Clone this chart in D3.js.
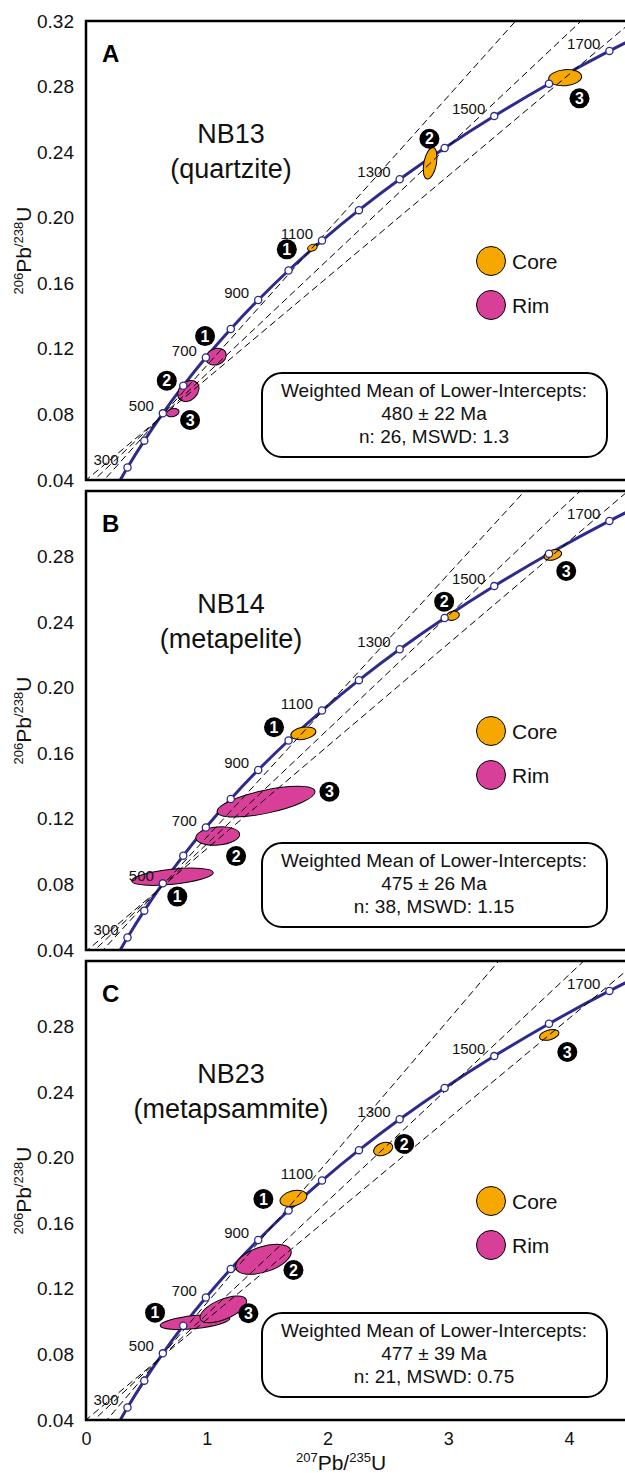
<!DOCTYPE html>
<html><head><meta charset="utf-8">
<script src="https://cdn.jsdelivr.net/npm/d3@7"></script>
<style>html,body{margin:0;padding:0;background:#fff;overflow:hidden}svg{display:block}</style>
</head><body><svg id="chart" width="625" height="1473"></svg>
<script>
// ---------------- DATA ----------------
// Concordia reference points (age in Ma, 207Pb/235U, 206Pb/238U)
const concordiaAges = [200,300,400,500,600,700,800,900,1000,1100,1200,1300,1400,1500,1600,1700,1800];
const concordiaX = [0.21771,0.34374,0.48281,0.63628,0.80563,0.99251,1.19873,1.42630,1.67741,1.95452,2.26030,2.59774,2.97009,3.38099,3.83441,4.33477,4.88690];
const concordiaY = [0.03151,0.04764,0.06401,0.08065,0.09754,0.11470,0.13213,0.14983,0.16780,0.18606,0.20460,0.22343,0.24256,0.26199,0.28172,0.30175,0.32211];
const ageLabels = [300,500,700,900,1100,1300,1500,1700];

const yTicksTop = [0.04,0.08,0.12,0.16,0.20,0.24,0.28,0.32];
const yTicksOther = [0.04,0.08,0.12,0.16,0.20,0.24,0.28];
const xTicks = [0,1,2,3,4];

const panelLetters = ["A","B","C"];
const sampleNames = ["NB13","NB14","NB23"];
const lithologies = ["(quartzite)","(metapelite)","(metapsammite)"];
const statsTitle = "Weighted Mean of Lower-Intercepts:";
const meanAges = ["480 \u00b1 22 Ma","475 \u00b1 26 Ma","477 \u00b1 39 Ma"];
const statsLines = ["n: 26, MSWD: 1.3","n: 38, MSWD: 1.15","n: 21, MSWD: 0.75"];
const legendTypes = ["Core","Rim"];

// lower intercept (207/235, 206/238) for each sample
const lowerIntercepts = [[0.6044,0.0773],[0.5965,0.0765],[0.5996,0.0768]];
// upper points the discordia lines pass through
const discordiaA = [[1.875,0.1817],[2.850,0.2332],[3.968,0.2854]];
const discordiaB = [[1.790,0.1722],[3.000,0.2439],[3.866,0.2810]];
const discordiaC = [[1.740,0.1752],[2.461,0.2053],[3.836,0.2749]];

// error ellipses: centre (x,y), semi-axes in data units (sx along 207/235, sy along 206/238), tilt, badge position
const ellipsesA = [
  {type:"Core",n:1,x:1.875,y:0.1817,sx:0.041,sy:0.0020,rot:-20,bx:1.663,by:0.1807},
  {type:"Core",n:2,x:2.850,y:0.2332,sx:0.052,sy:0.0098,rot:11,bx:2.844,by:0.2482},
  {type:"Core",n:3,x:3.968,y:0.2854,sx:0.137,sy:0.0049,rot:-5,bx:4.087,by:0.2728},
  {type:"Rim",n:1,x:1.077,y:0.1152,sx:0.087,sy:0.0049,rot:-20,bx:0.986,by:0.1278},
  {type:"Rim",n:2,x:0.848,y:0.0943,sx:0.099,sy:0.0055,rot:-45,bx:0.669,by:0.1006},
  {type:"Rim",n:3,x:0.718,y:0.0811,sx:0.054,sy:0.0024,rot:-15,bx:0.862,by:0.0766}
];
const ellipsesB = [
  {type:"Core",n:1,x:1.800,y:0.1722,sx:0.105,sy:0.0037,rot:-10,bx:1.557,by:0.1759},
  {type:"Core",n:2,x:3.037,y:0.2439,sx:0.056,sy:0.0027,rot:-15,bx:2.966,by:0.2525},
  {type:"Core",n:3,x:3.866,y:0.2810,sx:0.075,sy:0.0030,rot:-15,bx:3.977,by:0.2712},
  {type:"Rim",n:1,x:0.716,y:0.0847,sx:0.340,sy:0.0046,rot:-6,bx:0.756,by:0.0726},
  {type:"Rim",n:2,x:1.091,y:0.1095,sx:0.182,sy:0.0055,rot:-5,bx:1.243,by:0.0973},
  {type:"Rim",n:3,x:1.491,y:0.1305,sx:0.414,sy:0.0070,rot:-12,bx:2.016,by:0.1366}
];
const ellipsesC = [
  {type:"Core",n:1,x:1.718,y:0.1752,sx:0.114,sy:0.0046,rot:-15,bx:1.469,by:0.1748},
  {type:"Core",n:2,x:2.461,y:0.2053,sx:0.083,sy:0.0037,rot:-20,bx:2.635,by:0.2084},
  {type:"Core",n:3,x:3.836,y:0.2749,sx:0.083,sy:0.0030,rot:-15,bx:3.986,by:0.2645},
  {type:"Rim",n:1,x:0.903,y:0.0998,sx:0.290,sy:0.0040,rot:-6,bx:0.572,by:0.1055},
  {type:"Rim",n:3,x:1.137,y:0.1075,sx:0.207,sy:0.0061,rot:-23,bx:1.345,by:0.1051},
  {type:"Rim",n:2,x:1.469,y:0.1380,sx:0.240,sy:0.0077,rot:-18,bx:1.718,by:0.1315}
];
const panelEllipses = [ellipsesA, ellipsesB, ellipsesC];
const panelDiscordia = [discordiaA, discordiaB, discordiaC];

// ---------------- STYLE / LAYOUT ----------------
const FONT = '"Liberation Sans", Arial, Helvetica, sans-serif';
const colors = {Core:"#F6A700", Rim:"#D83F98"};
const concordiaColor = "#2E2B8C";
const plotLeft = 86, plotRightClip = 660;
const panelBottoms = [480, 950, 1420];
const panelHeight = 459;

const svg = d3.select("#chart").style("font-family", FONT);
const x = d3.scaleLinear().domain([0,4]).range([86,569]);
const kx = x(1) - x(0);
const defs = svg.append("defs");

const concordiaPts = concordiaAges.map((a,i)=>({age:a, x:concordiaX[i], y:concordiaY[i]}));

panelBottoms.forEach((bottom, i) => {
  const top = bottom - panelHeight;
  const y = d3.scaleLinear().domain([0.04,0.32]).range([bottom, top]);
  const ky = y(0) - y(1);
  const g = svg.append("g");
  const clipId = "clip" + i;
  defs.append("clipPath").attr("id", clipId).append("rect")
    .attr("x", plotLeft).attr("y", top).attr("width", plotRightClip - plotLeft).attr("height", panelHeight);
  const plot = g.append("g").attr("clip-path", `url(#${clipId})`);

  // concordia curve
  plot.append("path").datum(concordiaPts)
    .attr("d", d3.line().x(d=>x(d.x)).y(d=>y(d.y)).curve(d3.curveNatural))
    .attr("fill","none").attr("stroke",concordiaColor).attr("stroke-width",3);

  // ellipses
  plot.selectAll("ellipse.e").data(panelEllipses[i]).join("ellipse")
    .attr("class","e")
    .attr("cx", d=>x(d.x)).attr("cy", d=>y(d.y))
    .attr("rx", d=>d.sx*kx).attr("ry", d=>d.sy*ky)
    .attr("transform", d=>`rotate(${d.rot},${x(d.x)},${y(d.y)})`)
    .attr("fill", d=>colors[d.type]).attr("stroke","#000").attr("stroke-width",1);

  // discordia lines
  const [lx, ly] = lowerIntercepts[i];
  plot.selectAll("line.d").data(panelDiscordia[i]).join("line")
    .attr("class","d")
    .each(function(d){
      const m = (d[1]-ly)/(d[0]-lx);
      const x0 = -0.5, x1 = 5.5;
      d3.select(this)
        .attr("x1", x(x0)).attr("y1", y(ly + m*(x0-lx)))
        .attr("x2", x(x1)).attr("y2", y(ly + m*(x1-lx)));
    })
    .attr("stroke","#000").attr("stroke-width",1).attr("stroke-dasharray","7,4");

  // age markers
  plot.selectAll("circle.m").data(concordiaPts).join("circle")
    .attr("class","m")
    .attr("cx", d=>x(d.x)).attr("cy", d=>y(d.y)).attr("r",3.6)
    .attr("fill","#fff").attr("stroke",concordiaColor).attr("stroke-width",1.3);

  // age labels
  g.selectAll("text.age").data(concordiaPts.filter(d=>ageLabels.includes(d.age))).join("text")
    .attr("class","age")
    .attr("x", d=>x(d.x)-9).attr("y", d=>y(d.y)-2)
    .attr("text-anchor","end").attr("font-size",15).attr("fill","#111")
    .text(d=>d.age);

  // number badges
  const badges = g.selectAll("g.badge").data(panelEllipses[i]).join("g").attr("class","badge")
    .attr("transform", d=>`translate(${x(d.bx)},${y(d.by)})`);
  badges.append("circle").attr("r",10).attr("fill","#000");
  badges.append("text").attr("text-anchor","middle").attr("dy","0.36em")
    .attr("font-size",16).attr("font-weight","bold").attr("fill","#fff").text(d=>d.n);

  // frame
  g.append("path")
    .attr("d", `M${plotRightClip},${top}H${plotLeft}V${bottom}H${plotRightClip}`)
    .attr("fill","none").attr("stroke","#000").attr("stroke-width",2.5);

  // y axis
  const yAxis = d3.axisLeft(y).tickValues(i===0 ? yTicksTop : yTicksOther)
    .tickSize(0).tickPadding(12).tickFormat(d3.format(".2f"));
  const ya = g.append("g").attr("transform",`translate(${plotLeft},0)`).call(yAxis);
  ya.select(".domain").remove();
  ya.selectAll("text").attr("font-size",19).attr("font-family",FONT).attr("fill","#111");

  // y axis title
  const yt = g.append("text")
    .attr("transform",`translate(31,${(top+bottom)/2}) rotate(-90)`)
    .attr("text-anchor","middle").attr("fill","#111");
  yt.append("tspan").attr("font-size",13).attr("dy",-8).text("206");
  yt.append("tspan").attr("font-size",21).attr("dy",8).text("Pb");
  yt.append("tspan").attr("font-size",13).attr("dy",-8).text("/238");
  yt.append("tspan").attr("font-size",21).attr("dy",8).text("U");

  // panel letter
  g.append("text").attr("x",102).attr("y",top+41).attr("font-size",24).attr("font-weight","bold")
    .attr("fill","#000").text(panelLetters[i]);

  // sample title
  g.append("text").attr("x",231).attr("y",top+122).attr("text-anchor","middle")
    .attr("font-size",27).attr("fill","#111").text(sampleNames[i]);
  g.append("text").attr("x",231).attr("y",top+157).attr("text-anchor","middle")
    .attr("font-size",27).attr("fill","#111").text(lithologies[i]);

  // legend
  const leg = g.selectAll("g.leg").data(legendTypes).join("g").attr("class","leg")
    .attr("transform",(d,j)=>`translate(491,${top+240+j*44})`);
  leg.append("circle").attr("r",14.5).attr("fill",d=>colors[d]).attr("stroke","#000").attr("stroke-width",1);
  leg.append("text").attr("x",21).attr("y",7.5).attr("font-size",21).attr("fill","#111").text(d=>d);

  // stats box
  g.append("rect").attr("x",262).attr("y",top+352).attr("width",345).attr("height",84)
    .attr("rx",20).attr("ry",20).attr("fill","#fff").attr("stroke","#000").attr("stroke-width",2);
  const st = [statsTitle, meanAges[i], statsLines[i]];
  g.selectAll("text.st").data(st).join("text").attr("class","st")
    .attr("x",434).attr("y",(d,j)=>top+376+j*23).attr("text-anchor","middle")
    .attr("font-size",19).attr("fill","#111").text(d=>d);

  // x axis on last panel
  if (i === panelBottoms.length-1) {
    const xAxis = d3.axisBottom(x).tickValues(xTicks).tickSize(0).tickPadding(12).tickFormat(d3.format("d"));
    const xa = g.append("g").attr("transform",`translate(0,${bottom})`).call(xAxis);
    xa.select(".domain").remove();
    xa.selectAll("text").attr("font-size",18).attr("font-family",FONT).attr("fill","#111");
    const xt = g.append("text").attr("x",341).attr("y",1470).attr("text-anchor","middle").attr("fill","#111");
    xt.append("tspan").attr("font-size",13).attr("dy",-8).text("207");
    xt.append("tspan").attr("font-size",21).attr("dy",8).text("Pb/");
    xt.append("tspan").attr("font-size",13).attr("dy",-8).text("235");
    xt.append("tspan").attr("font-size",21).attr("dy",8).text("U");
  }
});
</script>
</body></html>
